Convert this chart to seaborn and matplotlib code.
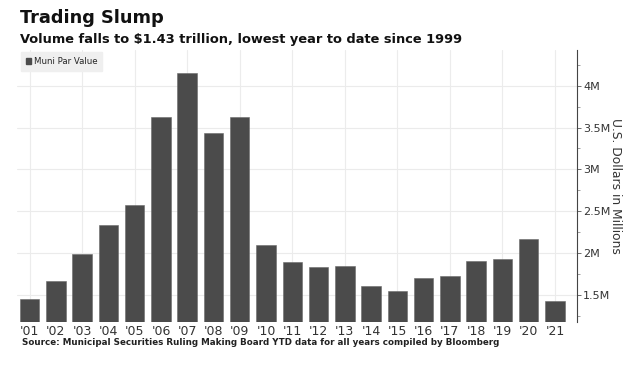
import numpy as np
import pandas as pd
import seaborn as sns
import matplotlib.pyplot as plt
from matplotlib.ticker import FuncFormatter, MultipleLocator

# Muni par value traded, year to date (millions of US$, shown in "M" of millions)
years = ["'01", "'02", "'03", "'04", "'05", "'06", "'07", "'08", "'09", "'10", "'11",
         "'12", "'13", "'14", "'15", "'16", "'17", "'18", "'19", "'20", "'21"]
par_value = [1.45, 1.67, 1.99, 2.34, 2.57, 3.63, 4.15, 3.43, 3.63, 2.10, 1.89,
             1.83, 1.85, 1.61, 1.55, 1.70, 1.73, 1.91, 1.93, 2.17, 1.43]

df = pd.DataFrame({"year": years, "value": par_value})

sns.set_style("white")
plt.rcParams["font.family"] = ["DejaVu Sans"]

fig = plt.figure(figsize=(6.4, 3.65), dpi=100)
ax = fig.add_axes([17 / 640, 1 - 322.3 / 365, 560 / 640, 272.3 / 365])

bar_color = "#4b4b4b"
sns.barplot(data=df, x="year", y="value", color=bar_color, width=0.74,
            saturation=1, ax=ax, zorder=3, edgecolor="#6a6a6a", linewidth=0.4)

ax.set_ylim(1.175, 4.425)
ax.set_xlim(-0.48, len(years) - 1 + 0.84)

# light grid: horizontal at majors, vertical every other year
ax.yaxis.set_major_locator(MultipleLocator(0.5))
ax.yaxis.set_minor_locator(MultipleLocator(0.25))
ax.grid(axis="y", which="major", color="#ebebeb", linewidth=0.8, zorder=0)
for i in range(0, len(years), 2):
    ax.axvline(i, color="#ececec", linewidth=0.8, zorder=0)

ax.yaxis.tick_right()
ax.yaxis.set_label_position("right")
ax.yaxis.set_major_formatter(FuncFormatter(lambda v, p: f"{v:g}M"))
ax.tick_params(axis="y", which="major", length=3, width=0.6, color="#555555",
               labelsize=8, labelcolor="#333333", pad=1.5)
ax.tick_params(axis="y", which="minor", length=2, width=0.5, color="#777777")
ax.tick_params(axis="x", length=0, labelsize=9, labelcolor="#333333", pad=2)

for side in ["left", "top", "bottom"]:
    ax.spines[side].set_visible(False)
ax.spines["right"].set_color("#444444")
ax.spines["right"].set_linewidth(0.8)

ax.set_xlabel("")
ax.set_ylabel("U.S. Dollars in Millions", rotation=-90, labelpad=8,
              fontsize=8.8, color="#333333")

# legend box
ax.legend(handles=[plt.Rectangle((0, 0), 1, 1, color=bar_color)],
          labels=["Muni Par Value"], loc="upper left",
          bbox_to_anchor=(0.0, 1.008), frameon=True, fontsize=6.2,
          handlelength=0.6, handleheight=0.6, handletextpad=0.3,
          borderpad=0.55, facecolor="#efefef", edgecolor="#efefef",
          framealpha=1, fancybox=False)

fig.text(20 / 640, 1 - 18 / 365, "Trading Slump", fontsize=12.8, fontweight="bold",
         va="center", ha="left", color="#111111")
fig.text(20 / 640, 1 - 40 / 365,
         "Volume falls to $1.43 trillion, lowest year to date since 1999",
         fontsize=9.4, fontweight="bold", va="center", ha="left", color="#111111")
fig.text(22 / 640, 1 - 342.5 / 365,
         "Source: Municipal Securities Ruling Making Board YTD data for all years compiled by Bloomberg",
         fontsize=6.3, fontweight="bold", va="center", ha="left", color="#222222")

fig.savefig("out.png", dpi=100, facecolor="white")
